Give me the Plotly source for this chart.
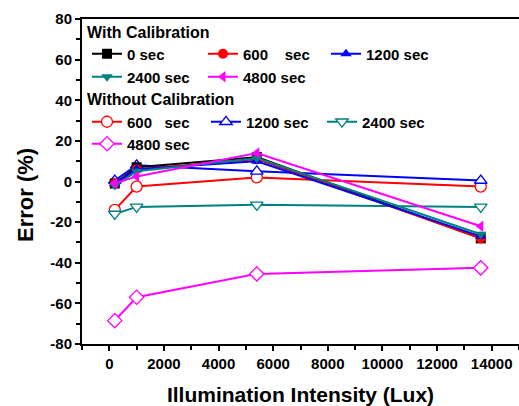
import plotly.graph_objects as go

# Illumination intensity (Lux) at which the error was measured
lux = [200, 1000, 5400, 13600]

# Error (%) with calibration, per elapsed time
cal_0 = [-1, 7, 12, -28]
cal_600 = [-1, 6, 11, -28]
cal_1200 = [-1, 6, 10, -27]
cal_2400 = [-2, 5, 11.5, -26]
cal_4800 = [-1, 2.5, 14, -22]

# Error (%) without calibration, per elapsed time
raw_600 = [-14, -2.5, 2, -2.5]
raw_1200 = [0.5, 8, 5, 0.5]
raw_2400 = [-16, -12.5, -11.5, -12.5]
raw_4800 = [-68.5, -57, -45.5, -42.5]

x_ticks = [0, 2000, 4000, 6000, 8000, 10000, 12000, 14000]
x_tick_text = ["0", "2000", "4000", "6000", "8000", "10000", "12000", "14000"]
y_ticks = [-80, -60, -40, -20, 0, 20, 40, 60, 80]
y_tick_text = ["-80", "-60", "-40", "-20", "0", "20", "40", "60", "80"]

BLACK = "#000000"
RED = "#FF0000"
BLUE = "#0000FF"
TEAL = "#008080"
MAGENTA = "#FF00FF"
FONT = "Liberation Sans, Arial, sans-serif"

W, H = 519, 406
M_L, M_R, M_T, M_B = 82, 0, 19, 62
PW, PH = W - M_L - M_R, H - M_T - M_B


def px_x(p):
    """Pixel column -> plot-area fraction."""
    return (p - M_L) / PW


def px_y(p):
    """Pixel row -> plot-area fraction."""
    return 1 - (p - M_T) / PH


fig = go.Figure()

# Each legend entry gets its own one-item legend box so the key can be
# laid out as a grid under the two group headings.
# (label, values, colour, symbol, hollow, legend id, key column px, key row px)
series = [
    ("600&nbsp;&nbsp;&nbsp;sec", raw_600, RED, "circle", True, "legend6", 87, 122),
    ("1200 sec", raw_1200, BLUE, "triangle-up", True, "legend7", 206, 122),
    ("2400 sec", raw_2400, TEAL, "triangle-down", True, "legend8", 322, 122),
    ("4800 sec", raw_4800, MAGENTA, "diamond", True, "legend9", 87, 144),
    ("0 sec", cal_0, BLACK, "square", False, "legend", 87, 54),
    ("600&nbsp;&nbsp;&nbsp;&nbsp;sec", cal_600, RED, "circle", False, "legend2", 203, 54),
    ("1200 sec", cal_1200, BLUE, "triangle-up", False, "legend3", 326, 54),
    ("2400 sec", cal_2400, TEAL, "triangle-down", False, "legend4", 87, 77),
    ("4800 sec", cal_4800, MAGENTA, "triangle-left", False, "legend5", 203, 77),
]

legend_font = dict(family=FONT, size=15, color="black", weight="bold")
legends = {}
for name, ys, col, sym, hollow, leg, kx, ky in series:
    if hollow:
        marker = dict(symbol=sym, size=11, color="white",
                      line=dict(color=col, width=1.3))
    else:
        marker = dict(symbol=sym, size=10, color=col,
                      line=dict(color=col, width=0))
    fig.add_trace(go.Scatter(
        x=lux, y=ys, name=name, mode="lines+markers",
        line=dict(color=col, width=2), marker=marker, legend=leg,
    ))
    legends[leg] = dict(
        x=px_x(kx), y=px_y(ky), xanchor="left", yanchor="middle",
        orientation="v", bgcolor="rgba(0,0,0,0)", borderwidth=0,
        font=legend_font, itemclick=False, itemdoubleclick=False,
    )

fig.update_layout(
    width=W, height=H,
    margin=dict(l=M_L, r=M_R, t=M_T, b=M_B),
    paper_bgcolor="white", plot_bgcolor="white",
    font=dict(family=FONT, color="black"),
    showlegend=True,
    **legends,
)

heading_font = dict(family=FONT, size=16, color="black", weight="bold")
for text, ky in [("With Calibration", 32), ("Without Calibration", 99)]:
    fig.add_annotation(
        text=text, xref="paper", yref="paper",
        x=px_x(85), y=px_y(ky), xanchor="left", yanchor="middle",
        showarrow=False, font=heading_font,
    )

# Vertical axis title, rotated and set slightly below the axis midpoint
fig.add_annotation(
    text="Error (%)", xref="paper", yref="paper",
    x=px_x(25), y=px_y(195), xanchor="center", yanchor="middle",
    textangle=-90, showarrow=False,
    font=dict(family=FONT, size=22, color="black", weight="bold"),
)

fig.update_xaxes(
    range=[-1000, 15000],
    tickvals=x_ticks, ticktext=x_tick_text,
    ticks="outside", ticklen=5, tickwidth=1.5, tickcolor="black",
    minor=dict(dtick=1000, tick0=0, ticks="outside", ticklen=4, tickwidth=1.5, tickcolor="black"),
    showline=True, linewidth=2, linecolor="black", mirror=True,
    showgrid=False, zeroline=False,
    tickfont=dict(family=FONT, size=15, color="black", weight="bold"),
    title=dict(text="Illumination Intensity (Lux)", standoff=20,
               font=dict(family=FONT, size=21, color="black", weight="bold")),
)
fig.update_yaxes(
    range=[-80, 80],
    tickvals=y_ticks, ticktext=y_tick_text,
    ticks="outside", ticklen=5, tickwidth=1.5, tickcolor="black",
    minor=dict(dtick=10, tick0=0, ticks="outside", ticklen=4, tickwidth=1.5, tickcolor="black"),
    showline=True, linewidth=2, linecolor="black", mirror=False,
    showgrid=False, zeroline=False,
    tickfont=dict(family=FONT, size=15, color="black", weight="bold"),
)

fig.write_html("out.html")
